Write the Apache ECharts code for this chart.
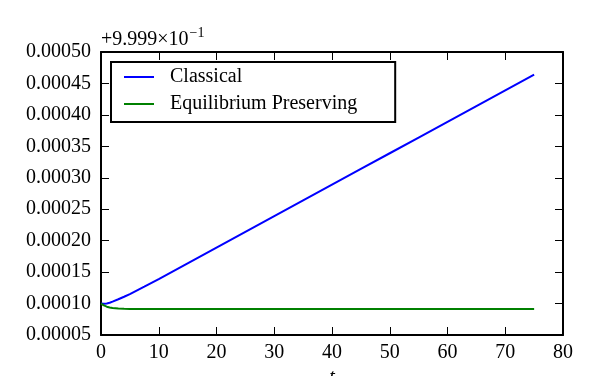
<!DOCTYPE html>
<html>
<head>
<meta charset="utf-8">
<script src="https://cdn.jsdelivr.net/npm/echarts@6/dist/echarts.min.js"></script>
<style>
html,body{margin:0;padding:0;background:#fff;}
#chart{width:610px;height:376px;}
</style>
</head>
<body>
<div id="chart"></div>
<script>
var tVals = [0, 0.5, 1, 1.5, 2, 3, 4, 5, 7.5, 10, 15, 20, 25, 30, 35, 40, 45, 50, 55, 60, 65, 70, 75];
var classical = [0.000100, 0.0000998, 0.0001000, 0.0001012, 0.0001030, 0.0001068, 0.0001108, 0.0001150, 0.0001268, 0.0001390, 0.0001640, 0.0001890, 0.0002140, 0.0002390, 0.0002640, 0.0002890, 0.0003140, 0.0003390, 0.0003640, 0.0003890, 0.0004140, 0.0004390, 0.0004640];
var equilibrium = [0.000100, 0.0000970, 0.0000950, 0.0000937, 0.0000929, 0.0000920, 0.0000916, 0.0000914, 0.0000913, 0.0000913, 0.0000913, 0.0000913, 0.0000913, 0.0000913, 0.0000913, 0.0000913, 0.0000913, 0.0000913, 0.0000913, 0.0000913, 0.0000913, 0.0000913, 0.0000913];
var seriesNames = ['Classical', 'Equilibrium Preserving'];
var offsetText = '+9.999\u00d710';
var offsetExp = '\u22121';
var xLabel = 't';

function pairs(ys){ return tVals.map(function(t,i){ return [t, ys[i]]; }); }

var FONT = '"Liberation Serif", "DejaVu Serif", serif';
var chart = echarts.init(document.getElementById('chart'));
var axisLine = {show:true, onZero:false, lineStyle:{color:'#000', width:2}};
var axisTick = {show:true, inside:true, length:8, lineStyle:{color:'#000', width:1}};
chart.setOption({
  animation:false,
  backgroundColor:'#fff',
  grid:{left:101, right:47, top:52, bottom:41, containLabel:false, outerBoundsMode:'none'},
  legend:{
    orient:'vertical', left:111, top:62,
    data:seriesNames,
    itemWidth:30, itemHeight:2, itemGap:7,
    icon:'rect',
    padding:[5,38,8,13],
    borderColor:'#000', borderWidth:2, backgroundColor:'#fff',
    textStyle:{fontFamily:FONT, fontSize:20, color:'#000', padding:[0,0,0,11]}
  },
  xAxis:[{
    type:'value', min:0, max:80, interval:10, position:'bottom',
    name:xLabel, nameLocation:'middle', nameGap:32,
    nameTextStyle:{fontFamily:FONT, fontStyle:'italic', fontSize:20, color:'#000'},
    axisLine:axisLine, axisTick:axisTick,
    axisLabel:{fontFamily:FONT, fontSize:20, color:'#000', margin:8},
    splitLine:{show:false}
  },{
    type:'value', min:0, max:80, interval:10, position:'top',
    axisLine:axisLine, axisTick:axisTick, axisLabel:{show:false}, splitLine:{show:false}
  }],
  yAxis:[{
    type:'value', min:0.00005, max:0.0005, interval:0.00005, position:'left',
    axisLine:axisLine, axisTick:axisTick,
    axisLabel:{fontFamily:FONT, fontSize:20, color:'#000', margin:10,
      formatter:function(v){ return v.toFixed(5); }},
    splitLine:{show:false}
  },{
    type:'value', min:0.00005, max:0.0005, interval:0.00005, position:'right',
    axisLine:axisLine, axisTick:axisTick, axisLabel:{show:false}, splitLine:{show:false}
  }],
  graphic:[{
    type:'text', left:101, top:26,
    style:{
      text:'{a|'+offsetText+'}{b|'+offsetExp+'}',
      rich:{
        a:{fontFamily:FONT, fontSize:20, fill:'#000', verticalAlign:'bottom'},
        b:{fontFamily:FONT, fontSize:14, fill:'#000', verticalAlign:'top', padding:[0,0,10,1]}
      }
    }
  }],
  series:[{
    name:seriesNames[0], type:'line', data:pairs(classical),
    showSymbol:false, symbol:'none', lineStyle:{color:'#0000ff', width:2}, itemStyle:{color:'#0000ff'}
  },{
    name:seriesNames[1], type:'line', data:pairs(equilibrium),
    showSymbol:false, symbol:'none', lineStyle:{color:'#008000', width:2}, itemStyle:{color:'#008000'}
  }]
});
</script>
</body>
</html>
